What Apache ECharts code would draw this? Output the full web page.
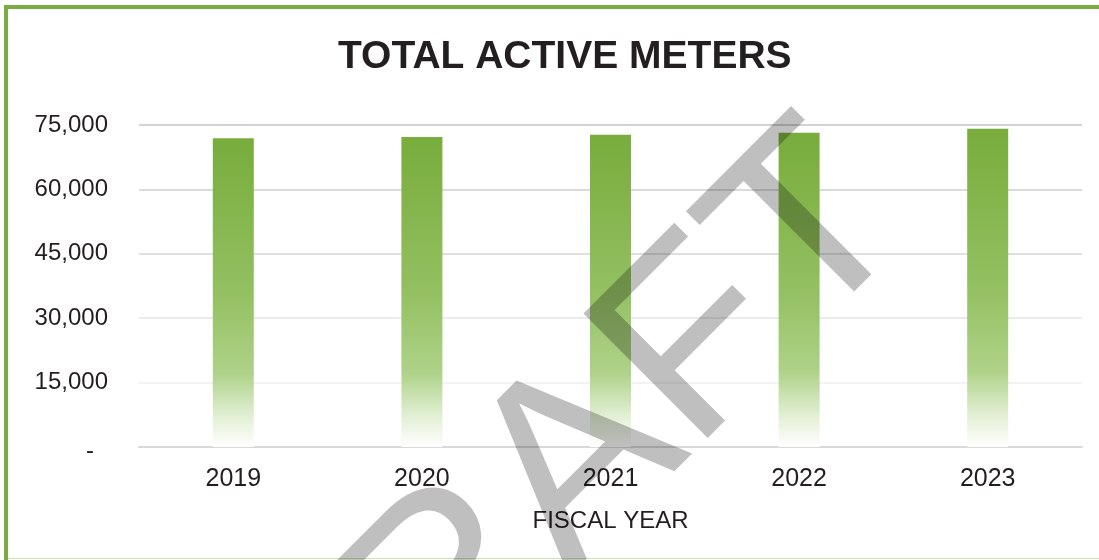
<!DOCTYPE html>
<html>
<head>
<meta charset="utf-8">
<script src="https://cdn.jsdelivr.net/npm/echarts@6/dist/echarts.min.js"></script>
<style>
html,body{margin:0;padding:0;background:#fff;}
#chart{width:1099px;height:560px;}
</style>
</head>
<body>
<div id="chart"></div>
<script>
const categories = ['2019', '2020', '2021', '2022', '2023'];
const activeMeters = [71900, 72200, 72700, 73200, 74100];
const yTicks = [0, 15000, 30000, 45000, 60000, 75000];
const titleText = 'TOTAL ACTIVE METERS';
const xAxisName = 'FISCAL YEAR';
const watermarkText = 'DRAFT';

const FONT = "'Liberation Sans', Arial, sans-serif";
const chart = echarts.init(document.getElementById('chart'));

const barGradient = new echarts.graphic.LinearGradient(0, 0, 0, 1, [
  { offset: 0, color: '#78ac3c' },
  { offset: 0.5, color: '#93c061' },
  { offset: 0.76, color: '#aed288' },
  { offset: 0.9, color: '#e2efd4' },
  { offset: 1, color: '#ffffff' }
]);

chart.setOption({
  backgroundColor: '#ffffff',
  animation: false,
  title: {
    text: titleText,
    left: 333,
    top: 33,
    textStyle: { fontFamily: FONT, fontSize: 39, fontWeight: 'bold', color: '#231f20' }
  },
  grid: { left: 139, right: 17, top: 125, bottom: 113, containLabel: false },
  xAxis: {
    type: 'category',
    data: categories,
    name: xAxisName,
    nameLocation: 'middle',
    nameGap: 62,
    nameTextStyle: { fontFamily: FONT, fontSize: 24, color: '#231f20' },
    axisLine: { lineStyle: { color: '#d9d9d9', width: 2 } },
    axisTick: { inside: true, length: 7, lineStyle: { color: '#d9d9d9', width: 2 } },
    axisLabel: { fontFamily: FONT, fontSize: 25, color: '#231f20', margin: 20 },
    splitLine: { show: false }
  },
  yAxis: {
    type: 'value',
    min: yTicks[0],
    max: yTicks[yTicks.length - 1],
    interval: yTicks[1] - yTicks[0],
    axisLine: { show: false },
    axisTick: { show: false },
    axisLabel: {
      fontFamily: FONT, fontSize: 24, color: '#231f20', margin: 31,
      formatter: v => v === 0 ? '{d|-}' : v.toLocaleString('en-US'),
      rich: {
        d: { fontFamily: FONT, fontSize: 24, color: '#231f20', padding: [8, 14, 0, 0] }
      }
    },
    splitLine: {
      lineStyle: {
        color: ['#d9d9d9', '#efefef', '#e4e4e4', '#d6d6d6', '#cfcfcf', '#c3c3c6'],
        width: 1.5
      }
    }
  },
  series: [{
    type: 'bar',
    data: activeMeters,
    barWidth: 41,
    itemStyle: { color: barGradient }
  }],
  graphic: [
    { type: 'rect', left: 4, top: 5, shape: { width: 1095, height: 4 }, style: { fill: '#7aad40' }, z: 200 },
    { type: 'rect', left: 4, top: 5, shape: { width: 4, height: 555 }, style: { fill: '#7aad40' }, z: 200 },
    { type: 'rect', left: 8, top: 558, shape: { width: 1091, height: 1 }, style: { fill: '#cfe3b8' }, z: 200 },
    {
      type: 'text',
      x: 560, y: 486,
      rotation: Math.PI / 4,
      scaleX: 1.06,
      scaleY: 1.03,
      z: 300,
      silent: true,
      style: {
        text: watermarkText,
        font: "normal 248px 'Liberation Sans', Arial, sans-serif",
        fill: 'rgba(0,0,0,0.25)',
        align: 'center',
        verticalAlign: 'middle',
        textAlign: 'center',
        textVerticalAlign: 'middle'
      }
    }
  ]
});
</script>
</body>
</html>
